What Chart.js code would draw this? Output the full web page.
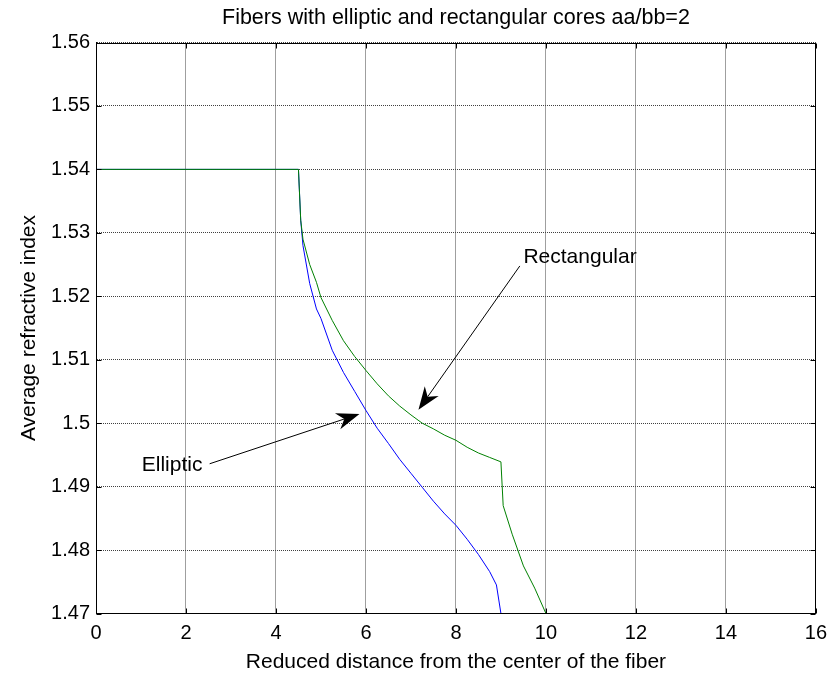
<!DOCTYPE html>
<html>
<head>
<meta charset="utf-8">
<script src="https://cdn.jsdelivr.net/npm/chart.js@4.4.0/dist/chart.umd.min.js"></script>
<style>
  html, body { margin: 0; padding: 0; background: #fff; }
  #wrap { width: 835px; height: 675px; }
</style>
</head>
<body>
<div id="wrap"><canvas id="chartFiber" width="835" height="675"></canvas></div>
<script>
// data
const distElliptic = [0, 4.5, 4.55, 4.6, 4.75, 4.9, 5.0, 5.25, 5.5, 5.75, 6.0, 6.25, 6.5, 6.75, 7.0, 7.25, 7.5, 7.75, 8.0, 8.25, 8.5, 8.75, 8.9, 9.0, 16];
const elliptic = [1.54, 1.54, 1.532, 1.528, 1.522, 1.518, 1.5165, 1.5115, 1.508, 1.505, 1.502, 1.4992, 1.4968, 1.4943, 1.4921, 1.4899, 1.4877, 1.4857, 1.4839, 1.4817, 1.4793, 1.4766, 1.4745, 1.47, 1.47];

const distRect = [0, 4.5, 4.55, 4.6, 4.75, 4.9, 5.0, 5.25, 5.5, 5.75, 6.0, 6.25, 6.5, 6.75, 7.0, 7.25, 7.5, 7.75, 8.0, 8.25, 8.5, 8.75, 9.0, 9.05, 9.25, 9.5, 9.75, 10.0, 16];
const rectangular = [1.54, 1.54, 1.532, 1.529, 1.525, 1.5222, 1.5198, 1.5162, 1.513, 1.5105, 1.5083, 1.5062, 1.5043, 1.5027, 1.5013, 1.5, 1.4991, 1.4981, 1.4973, 1.4962, 1.4953, 1.4946, 1.4939, 1.487, 1.4825, 1.4775, 1.474, 1.47, 1.47];

const xTicks = [0, 2, 4, 6, 8, 10, 12, 14, 16];
const yTicks = [1.47, 1.48, 1.49, 1.5, 1.51, 1.52, 1.53, 1.54, 1.55, 1.56];

// teks + panah (koordinat data)
const notes = [
  { text: 'Elliptic', tx: 1.017, ty: 1.4934, from: [2.526, 1.4936], to: [5.856, 1.50145] },
  { text: 'Rectangular', tx: 9.50, ty: 1.5261, from: [9.42, 1.52478], to: [7.167, 1.5021] }
];

const FONT = 'Liberation Sans, Arial, Helvetica, sans-serif';

function panah(ctx, x1, y1, x2, y2) {
  const ang = Math.atan2(y2 - y1, x2 - x1);
  const c = Math.cos(ang), s = Math.sin(ang);
  const L = 23, W = 8.5, N = 16;
  ctx.beginPath();
  ctx.moveTo(x1, y1);
  ctx.lineTo(x2 - N * c, y2 - N * s);
  ctx.stroke();
  ctx.beginPath();
  ctx.moveTo(x2, y2);
  ctx.lineTo(x2 - L * c - W * s, y2 - L * s + W * c);
  ctx.lineTo(x2 - N * c, y2 - N * s);
  ctx.lineTo(x2 - L * c + W * s, y2 - L * s - W * c);
  ctx.closePath();
  ctx.fill();
}

const kotakDanCatatan = {
  id: 'kotakDanCatatan',
  afterDatasetsDraw(chart) {
    const { ctx, chartArea: a, scales: { x, y } } = chart;
    const l = Math.round(a.left) + 0.5, r = Math.round(a.right) - 0.5;
    const t = Math.round(a.top) + 0.5, b = Math.round(a.bottom) - 0.5;
    ctx.save();
    ctx.strokeStyle = '#000';
    ctx.fillStyle = '#000';
    ctx.lineWidth = 1;
    ctx.strokeRect(l, t, r - l, b - t);

    // tick kecil ke dalam
    ctx.beginPath();
    xTicks.forEach(v => {
      const px = Math.round(x.getPixelForValue(v)) + 0.5;
      ctx.moveTo(px, b); ctx.lineTo(px, b - 5);
      ctx.moveTo(px, t); ctx.lineTo(px, t + 5);
    });
    yTicks.forEach(v => {
      const py = Math.round(y.getPixelForValue(v)) + 0.5;
      ctx.moveTo(l, py); ctx.lineTo(l + 5, py);
      ctx.moveTo(r, py); ctx.lineTo(r - 5, py);
    });
    ctx.stroke();

    ctx.font = '21px ' + FONT;
    ctx.textBaseline = 'middle';
    ctx.textAlign = 'left';
    notes.forEach(n => {
      ctx.fillText(n.text, x.getPixelForValue(n.tx), y.getPixelForValue(n.ty));
      panah(ctx,
        x.getPixelForValue(n.from[0]), y.getPixelForValue(n.from[1]),
        x.getPixelForValue(n.to[0]), y.getPixelForValue(n.to[1]));
    });
    ctx.restore();
  }
};

const toPts = (xs, ys) => xs.map((v, i) => ({ x: v, y: ys[i] }));

const ctx = document.getElementById('chartFiber').getContext('2d');
new Chart(ctx, {
  type: 'scatter',
  data: {
    datasets: [
      {
        label: 'Rectangular',
        data: toPts(distRect, rectangular),
        showLine: true,
        borderColor: '#008000',
        borderWidth: 1,
        pointRadius: 0,
        tension: 0
      },
      {
        label: 'Elliptic',
        data: toPts(distElliptic, elliptic),
        showLine: true,
        borderColor: '#0000ff',
        borderWidth: 1,
        pointRadius: 0,
        tension: 0
      }
    ]
  },
  options: {
    responsive: false,
    animation: false,
    devicePixelRatio: 1,
    layout: { padding: { left: 0, right: 13, top: 0, bottom: 0 } },
    scales: {
      x: {
        type: 'linear',
        min: 0,
        max: 16,
        afterBuildTicks: s => { s.ticks = xTicks.map(v => ({ value: v })); },
        afterFit: s => { s.height = 61.5; },
        ticks: {
          color: '#000',
          font: { family: FONT, size: 20 },
          padding: 8,
          maxRotation: 0,
          autoSkip: false,
          callback: v => String(v)
        },
        grid: { color: '#404040', drawTicks: false },
        border: { display: true, color: '#000', width: 1, dash: [1, 1] },
        title: {
          display: true,
          text: 'Reduced distance from the center of the fiber',
          color: '#000',
          font: { family: FONT, size: 21 },
          padding: { top: 0, bottom: 0 }
        }
      },
      y: {
        type: 'linear',
        min: 1.47,
        max: 1.56,
        afterBuildTicks: s => { s.ticks = yTicks.map(v => ({ value: v })); },
        afterFit: s => { s.width = 96; },
        ticks: {
          color: '#000',
          font: { family: FONT, size: 20 },
          padding: 6,
          autoSkip: false,
          callback: v => String(v)
        },
        grid: { color: '#404040', drawTicks: false },
        border: { display: true, color: '#000', width: 1, dash: [1, 1] },
        title: {
          display: true,
          text: 'Average refractive index',
          color: '#000',
          font: { family: FONT, size: 21 },
          padding: { top: 17, bottom: 0 }
        }
      }
    },
    plugins: {
      legend: { display: false },
      tooltip: { enabled: false },
      title: {
        display: true,
        fullSize: false,
        text: 'Fibers with elliptic and rectangular cores aa/bb=2',
        color: '#000',
        font: { family: FONT, size: 21.5, weight: 'normal' },
        padding: { top: 5, bottom: 11.7 }
      }
    }
  },
  plugins: [kotakDanCatatan]
});
</script>
</body>
</html>
